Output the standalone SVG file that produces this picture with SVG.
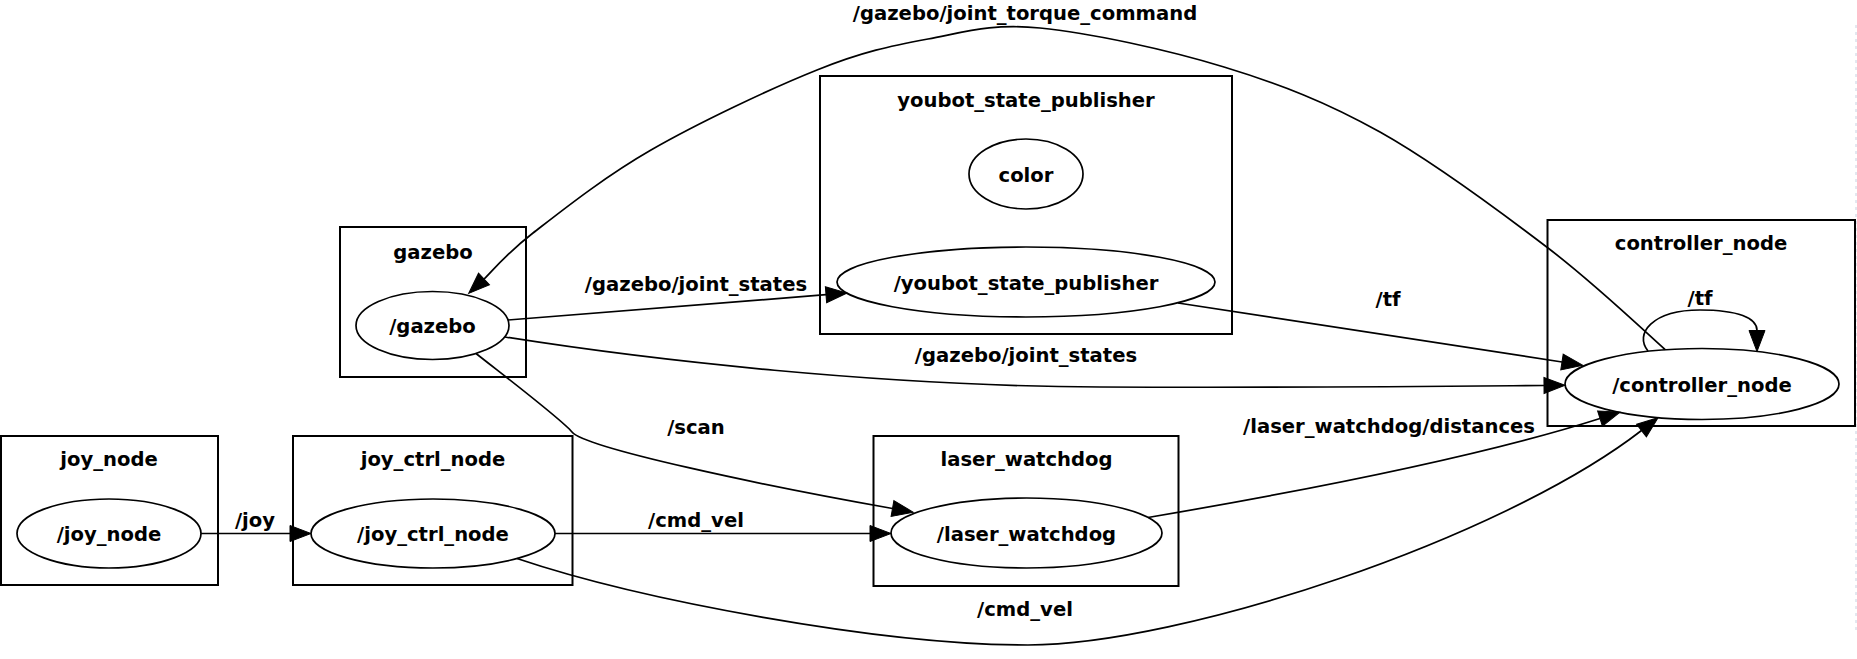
<svg xmlns="http://www.w3.org/2000/svg" width="1857" height="659" viewBox="0 0 1857 659">
<style>
text{font-family:"DejaVu Sans","Liberation Sans",sans-serif;font-weight:bold;font-size:19.6px;text-anchor:middle;fill:#000}
.box{fill:none;stroke:#000;stroke-width:2}
.el{fill:none;stroke:#000;stroke-width:1.7}
.edge{fill:none;stroke:#000;stroke-width:1.7;marker-end:url(#ah)}
</style>
<defs>
<marker id="ah" markerUnits="userSpaceOnUse" markerWidth="21" markerHeight="16" refX="0" refY="8" orient="auto" overflow="visible">
<path d="M0,0 L21,8 L0,16 Z" fill="#000" stroke="#000" stroke-width="1"/>
</marker>
</defs>
<rect width="1857" height="659" fill="#fff"/>
<line x1="1856" y1="25" x2="1856" y2="630" stroke="#c8d0e0" stroke-width="1" stroke-dasharray="3,4"/>

<g id="joy_node">
<rect class="box" x="1" y="436" width="217" height="149"/>
<text x="109" y="466">joy_node</text>
<ellipse class="el" cx="109" cy="533.5" rx="92" ry="34.5"/>
<text x="109" y="541">/joy_node</text>
</g>

<g id="joy_ctrl_node">
<rect class="box" x="293" y="436" width="279.5" height="149"/>
<text x="433" y="466">joy_ctrl_node</text>
<ellipse class="el" cx="433" cy="533.5" rx="122" ry="34.5"/>
<text x="433" y="541">/joy_ctrl_node</text>
</g>

<g id="gazebo">
<rect class="box" x="340" y="227" width="186" height="150"/>
<text x="433" y="259">gazebo</text>
<ellipse class="el" cx="432.5" cy="325.5" rx="76.5" ry="34"/>
<text x="432.5" y="333">/gazebo</text>
</g>

<g id="youbot_state_publisher">
<rect class="box" x="820" y="76" width="412" height="258"/>
<text x="1026" y="107">youbot_state_publisher</text>
<ellipse class="el" cx="1026" cy="174" rx="57" ry="35"/>
<text x="1026" y="181.5">color</text>
<ellipse class="el" cx="1026" cy="282" rx="189" ry="35"/>
<text x="1026" y="289.5">/youbot_state_publisher</text>
</g>

<g id="laser_watchdog">
<rect class="box" x="873.5" y="436" width="305" height="150"/>
<text x="1026.5" y="466">laser_watchdog</text>
<ellipse class="el" cx="1026.5" cy="533" rx="135.5" ry="35"/>
<text x="1026.5" y="540.5">/laser_watchdog</text>
</g>

<g id="controller_node">
<rect class="box" x="1547.5" y="220" width="307.5" height="206"/>
<text x="1701" y="250">controller_node</text>
<ellipse class="el" cx="1702" cy="384" rx="137" ry="35.5"/>
<text x="1702" y="391.5">/controller_node</text>
</g>

<g id="connectors">
<path class="edge" d="M201,533.5 L290,533.5"/>
<text x="255" y="527">/joy</text>

<path class="edge" d="M555,533.5 L870,533.5"/>
<text x="696" y="527">/cmd_vel</text>

<path class="edge" d="M508,320 L826,294.7"/>
<text x="696" y="291">/gazebo/joint_states</text>

<path class="edge" d="M505,337 C650,360 880,386 1100,387 C1300,388 1480,386 1544,385.5"/>
<text x="1026" y="362">/gazebo/joint_states</text>

<path class="edge" d="M1178,303 L1562,362"/>
<text x="1388" y="306">/tf</text>

<path class="edge" d="M1648,351 C1634,334 1652,310 1700,310 C1738,310 1757,318 1757,330.5"/>
<text x="1700" y="305">/tf</text>

<path class="edge" d="M476,353.5 C520,388 562,420 572,432 C585,448 760,485 892.5,508.5"/>
<text x="696" y="434">/scan</text>

<path class="edge" d="M1148,517.5 C1280,495 1470,460 1600,418.5"/>
<text x="1389" y="433">/laser_watchdog/distances</text>

<path class="edge" d="M517,558.5 C640,600 880,645 1028,645 C1180,645 1500,540 1641.5,430.5"/>
<text x="1025" y="616">/cmd_vel</text>

<path class="edge" d="M1665,349.5 C1645.5,332.2 1595.5,284.2 1548,248 C1500.5,211.8 1434,162.2 1380,132 C1326,101.8 1280.7,84.3 1224,67 C1167.3,49.7 1089.3,32.7 1040,28 C990.7,23.3 965.2,32 928,39 C890.8,46 863.2,51.5 817,70 C770.8,88.5 698.3,122.8 651,150 C603.7,177.2 560.8,211.5 533,233 C505.2,254.5 492.2,271.3 484,279"/>
<text x="1025" y="20">/gazebo/joint_torque_command</text>
</g>
</svg>
